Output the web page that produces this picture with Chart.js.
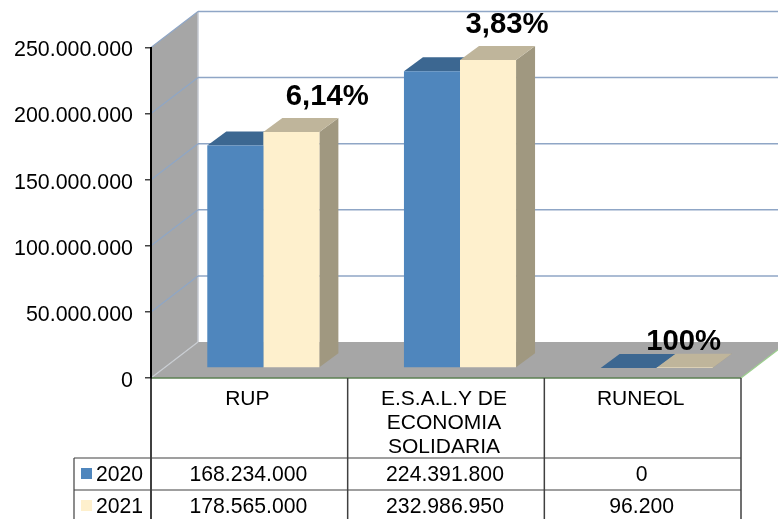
<!DOCTYPE html>
<html>
<head>
<meta charset="utf-8">
<script src="https://cdn.jsdelivr.net/npm/chart.js@4/dist/chart.umd.min.js"></script>
<style>
  html, body { margin: 0; padding: 0; background: #fff; overflow: hidden; }
  canvas { display: block; }
</style>
</head>
<body>
<canvas id="chart" width="778" height="519"></canvas>
<script>
const categories = [['RUP'], ['E.S.A.L.Y DE', 'ECONOMIA', 'SOLIDARIA'], ['RUNEOL']];
const values2020 = [168234000, 224391800, 0];
const values2021 = [178565000, 232986950, 96200];
const percentLabels = ['6,14%', '3,83%', '100%'];
const yTicks = [0, 50000000, 100000000, 150000000, 200000000, 250000000];

const FONT = '"Liberation Sans", Arial, sans-serif';
const WALL = '#a6a6a6';
const GRID = '#8fa6c6';
// 3d offsets: whole box, and one bar inside it
const boxDx = 47, boxDy = -36;
const barShiftX = 14, barShiftY = -10;
const barDx = 19, barDy = -14;
const faceColors = [
    { top: '#3c6791', side: '#3c6791' },
    { top: '#bfb59b', side: '#a09880' }
];
// percent label position relative to the 2021 bar
const percentOffsets = [[78, -45], [61, -45], [41, -36]];

function fmt(v) {
    return String(v).replace(/\B(?=(\d{3})+$)/g, '.');
}

function poly(ctx, pts, fill) {
    ctx.beginPath();
    pts.forEach(function(p, i) { i ? ctx.lineTo(p[0], p[1]) : ctx.moveTo(p[0], p[1]); });
    ctx.closePath();
    ctx.fillStyle = fill;
    ctx.fill();
}

function line(ctx, x1, y1, x2, y2, color, width) {
    ctx.beginPath();
    ctx.moveTo(x1, y1);
    ctx.lineTo(x2, y2);
    ctx.strokeStyle = color;
    ctx.lineWidth = width;
    ctx.stroke();
}

const box3d = {
    id: 'box3d',
    // walls, floor and grid go under the axes
    beforeDraw(chart) {
        const ctx = chart.ctx, a = chart.chartArea, y = chart.scales.y;
        const farRight = a.right + boxDx;
        ctx.save();
        poly(ctx, [[a.left, a.top], [a.left + boxDx, a.top + boxDy], [a.left + boxDx, a.bottom + boxDy], [a.left, a.bottom]], WALL);
        poly(ctx, [[a.left, a.bottom], [a.right, a.bottom], [farRight, a.bottom + boxDy], [a.left + boxDx, a.bottom + boxDy]], WALL);
        line(ctx, a.left + boxDx, a.top + boxDy, a.left + boxDx, a.bottom + boxDy, '#c4c8d0', 1.5);
        yTicks.forEach(function(t) {
            const py = y.getPixelForValue(t);
            const wallColor = t === 0 ? '#c9cdd2' : GRID;
            line(ctx, a.left, py, a.left + boxDx, py + boxDy, wallColor, 1.2);
            if (t > 0) line(ctx, a.left + boxDx, py + boxDy, farRight, py + boxDy, GRID, 1.5);
        });
        line(ctx, a.right, a.bottom, farRight, a.bottom + boxDy, '#9ccf8e', 1.2);
        line(ctx, a.left, a.bottom, a.right, a.bottom, '#5b7f52', 1.5);
        ctx.restore();
    },
    beforeDatasetsDraw(chart) {
        const ctx = chart.ctx;
        ctx.save();
        ctx.translate(barShiftX, barShiftY);
        chart.data.datasets.forEach(function(ds, d) {
            chart.getDatasetMeta(d).data.forEach(function(bar) {
                const l = bar.x - bar.width / 2, r = bar.x + bar.width / 2;
                poly(ctx, [[r, bar.y], [r + barDx, bar.y + barDy], [r + barDx, bar.base + barDy], [r, bar.base]], faceColors[d].side);
                poly(ctx, [[l, bar.y], [l + barDx, bar.y + barDy], [r + barDx, bar.y + barDy], [r, bar.y]], faceColors[d].top);
            });
        });
    },
    afterDatasetsDraw(chart) {
        const ctx = chart.ctx;
        ctx.restore();
        ctx.save();
        ctx.font = 'bold 29.3px ' + FONT;
        ctx.fillStyle = '#000';
        ctx.textAlign = 'center';
        ctx.textBaseline = 'middle';
        chart.getDatasetMeta(1).data.forEach(function(bar, i) {
            const cx = chart.scales.x.getPixelForValue(i);
            ctx.fillText(percentLabels[i], cx + percentOffsets[i][0], bar.y + percentOffsets[i][1]);
        });
        ctx.restore();
    },
    // data table under the plot
    afterDraw(chart) {
        const ctx = chart.ctx, a = chart.chartArea, x = chart.scales.x;
        const edge = '#404040';
        const tableLeft = 74, rowTop = [458, 490], bottom = 519;
        const colWidth = (a.right - a.left) / categories.length;
        ctx.save();
        for (let i = 0; i <= categories.length; i++) {
            const px = a.left + i * colWidth;
            line(ctx, px, a.bottom, px, bottom, i === 0 ? '#000' : edge, 1.5);
        }
        line(ctx, tableLeft, rowTop[0], tableLeft, bottom, edge, 1.2);
        rowTop.forEach(function(ry) { line(ctx, tableLeft, ry, a.right, ry, edge, 1.2); });
        ctx.font = '21.2px ' + FONT;
        ctx.fillStyle = '#000';
        ctx.textBaseline = 'middle';
        chart.data.datasets.forEach(function(ds, d) {
            const cy = rowTop[d] + 17;
            ctx.fillStyle = ds.backgroundColor;
            ctx.fillRect(tableLeft + 7, cy - 7, 11, 11);
            ctx.fillStyle = '#000';
            ctx.textAlign = 'left';
            ctx.fillText(ds.label, tableLeft + 22, cy);
            ctx.textAlign = 'center';
            ds.data.forEach(function(v, i) {
                ctx.fillText(fmt(v), x.getPixelForValue(i) - 1, cy);
            });
        });
        ctx.restore();
    }
};

new Chart(document.getElementById('chart').getContext('2d'), {
    type: 'bar',
    data: {
        labels: categories,
        datasets: [
            { label: '2020', data: values2020, backgroundColor: '#4f86bd' },
            { label: '2021', data: values2021, backgroundColor: '#fef0cd' }
        ]
    },
    options: {
        responsive: false,
        animation: false,
        layout: {
            autoPadding: false,
            padding: { left: 0, right: 37, top: 47.5, bottom: 0 }
        },
        plugins: { legend: { display: false }, tooltip: { enabled: false } },
        datasets: { bar: { barPercentage: 1, categoryPercentage: 0.57, clip: false } },
        scales: {
            x: {
                grid: { display: false },
                border: { display: false },
                afterFit: function(s) { s.height = 141; },
                ticks: {
                    color: '#000',
                    font: { family: FONT, size: 21, lineHeight: 1.14 },
                    padding: 1,
                    labelOffset: -2,
                    maxRotation: 0,
                    autoSkip: false
                }
            },
            y: {
                min: 0,
                max: 250000000,
                afterFit: function(s) { s.width = 151; },
                afterBuildTicks: function(s) { s.ticks = yTicks.map(function(v) { return { value: v }; }); },
                grid: { drawOnChartArea: false, drawTicks: true, tickLength: 6, color: '#444', lineWidth: 1.5 },
                border: { color: '#000', width: 2 },
                ticks: {
                    color: '#000',
                    font: { family: FONT, size: 21.4 },
                    padding: 12,
                    labelOffset: 3,
                    callback: function(value) { return fmt(value); }
                }
            }
        }
    },
    plugins: [box3d]
});
</script>
</body>
</html>
